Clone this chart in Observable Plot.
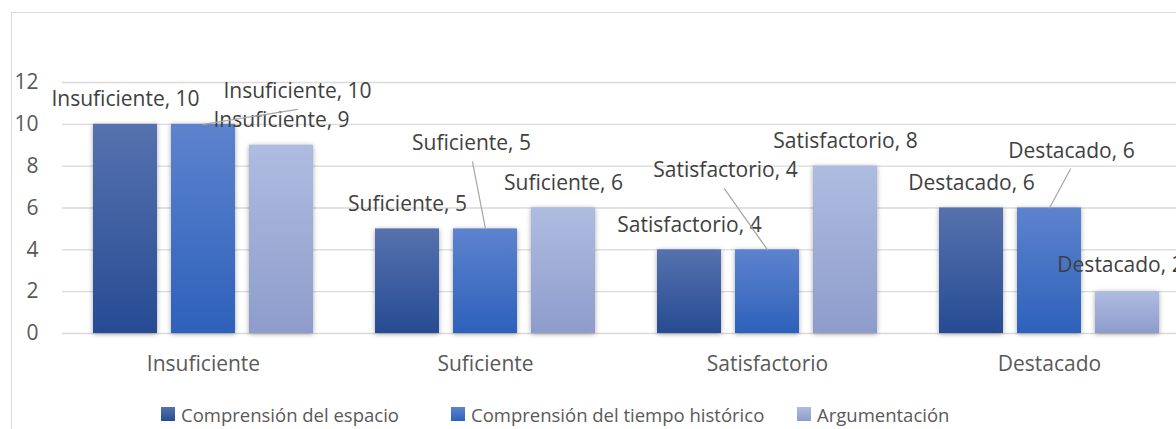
<!DOCTYPE html>
<html>
<head>
<meta charset="utf-8">
<script src="https://cdn.jsdelivr.net/npm/d3@7"></script>
<script src="https://cdn.jsdelivr.net/npm/@observablehq/plot@0.6"></script>
<style>
  html, body { margin: 0; padding: 0; background: #ffffff; }
  #wrap { position: relative; width: 1176px; height: 429px; overflow: hidden; background: #fff; font-family: "Open Sans", sans-serif; }
  #frame { position: absolute; left: 11px; top: 12px; width: 1300px; height: 500px; border: 1px solid #d9d9d9; box-sizing: border-box; }
  #chart { position: absolute; left: 0; top: 0; width: 1200px; }
  #chart svg { max-width: none !important; }
  #chart g[aria-label="bar"] rect { filter: drop-shadow(0px 1px 2.5px rgba(0,0,0,0.35)); }
  #legend { position: absolute; left: 0; top: 402px; width: 1176px; height: 24px; font-size: 18.5px; color: #595959; white-space: nowrap; }
  #legend .item { position: absolute; top: 0; display: flex; align-items: center; height: 24px; }
  #legend .sw { width: 14px; height: 14px; margin-right: 6px; }
</style>
</head>
<body>
<div id="wrap">
  <div id="frame"></div>
  <div id="chart"></div>
  <div id="legend"></div>
</div>
<script>
// ---- data ----
const categories = ["Insuficiente", "Suficiente", "Satisfactorio", "Destacado"];
const series = ["Comprensión del espacio", "Comprensión del tiempo histórico", "Argumentación"];
const espacio = [10, 5, 4, 6];
const tiempo = [10, 5, 4, 6];
const argumentacion = [9, 6, 8, 2];
const yTicks = [0, 2, 4, 6, 8, 10, 12];

// ---- styling ----
const gradients = [
  ["#5672ae", "#264b93"],
  ["#5d83ce", "#2d61ba"],
  ["#afbce1", "#8d9ccb"]
];
const fills = gradients.map((_, i) => `url(#grad${i})`);
const legendLeft = [161, 451, 797];
// manual label placement (pixel offsets of label centre from the bar top) and leader ends
const labelOffsets = [
  {category: "Insuficiente", series: series[1], dx: 94, dy: -33, leader: [94, -15]},
  {category: "Suficiente", series: series[1], dx: -14, dy: -86, leader: [-13, -67]},
  {category: "Satisfactorio", series: series[1], dx: -42, dy: -80, leader: [-43, -61]},
  {category: "Destacado", series: series[1], dx: 22, dy: -57, leader: [21, -39]},
  {category: "Destacado", series: series[2], dx: -7, dy: -26, leader: null}
];
const defaultOffset = {dx: 0, dy: -25};

const values = [espacio, tiempo, argumentacion];
const data = categories.flatMap((c, i) => series.map((s, j) => ({category: c, series: s, value: values[j][i]})));

const key = (d) => d.category + "|" + d.series;
const offKeys = new Set(labelOffsets.map(key));

const textStyle = {fontSize: 21, fill: "#404040", fontFamily: "Open Sans"};

const marks = [
  Plot.gridY(yTicks, {stroke: "#d9d9d9", strokeOpacity: 1, strokeWidth: 1.3}),
  Plot.axisY(yTicks, {tickSize: 0, tickPadding: 24, fontSize: 21, fill: "#595959", label: null}),
  Plot.axisFx({anchor: "bottom", tickSize: 0, tickPadding: 23, fontSize: 21, fill: "#595959", label: null}),
  Plot.barY(data, {fx: "category", x: "series", y: "value", fill: "series"}),
  Plot.text(data.filter(d => !offKeys.has(key(d))), {
    fx: "category", x: "series", y: "value", text: d => `${d.category}, ${d.value}`,
    dx: defaultOffset.dx, dy: defaultOffset.dy, ...textStyle
  })
];
for (const o of labelOffsets) {
  const subset = data.filter(d => key(d) === key(o));
  marks.push(Plot.text(subset, {
    fx: "category", x: "series", y: "value", text: d => `${d.category}, ${d.value}`,
    dx: o.dx, dy: o.dy, ...textStyle
  }));
  if (o.leader) {
    const [rx, ry] = o.leader;
    marks.push(Plot.vector(subset, {
      fx: "category", x: "series", y: "value", anchor: "start",
      length: Math.hypot(rx, ry), rotate: Math.atan2(rx, -ry) * 180 / Math.PI,
      shape: {draw(ctx, l) { ctx.moveTo(0, 0); ctx.lineTo(0, -l); }},
      stroke: "#a6a6a6", strokeWidth: 1.2, fill: "none"
    }));
  }
}

const chart = Plot.plot({
  width: 1200,
  height: 385,
  marginLeft: 62,
  marginRight: 10,
  marginTop: 82,
  marginBottom: 52,
  fx: {domain: categories, padding: 0, label: null},
  x: {domain: series, paddingInner: 0.1795, paddingOuter: 0.397, axis: null},
  y: {domain: [0, 12]},
  color: {domain: series, range: fills},
  style: {fontFamily: "Open Sans", background: "transparent", overflow: "visible", maxWidth: "none"},
  marks
});
chart.style.maxWidth = "none";

// gradient definitions
const ns = "http://www.w3.org/2000/svg";
const defs = document.createElementNS(ns, "defs");
gradients.forEach(([top, bottom], i) => {
  const g = document.createElementNS(ns, "linearGradient");
  g.setAttribute("id", `grad${i}`);
  g.setAttribute("x1", "0"); g.setAttribute("y1", "0");
  g.setAttribute("x2", "0"); g.setAttribute("y2", "1");
  [[0, top], [1, bottom]].forEach(([off, col]) => {
    const s = document.createElementNS(ns, "stop");
    s.setAttribute("offset", off);
    s.setAttribute("stop-color", col);
    g.appendChild(s);
  });
  defs.appendChild(g);
});
chart.insertBefore(defs, chart.firstChild);
document.getElementById("chart").appendChild(chart);

// legend
const legend = document.getElementById("legend");
series.forEach((s, i) => {
  const item = document.createElement("div");
  item.className = "item";
  item.style.left = legendLeft[i] + "px";
  const sw = document.createElement("div");
  sw.className = "sw";
  sw.style.background = `linear-gradient(${gradients[i][0]}, ${gradients[i][1]})`;
  const label = document.createElement("span");
  label.textContent = s;
  item.appendChild(sw);
  item.appendChild(label);
  legend.appendChild(item);
});
</script>
</body>
</html>
